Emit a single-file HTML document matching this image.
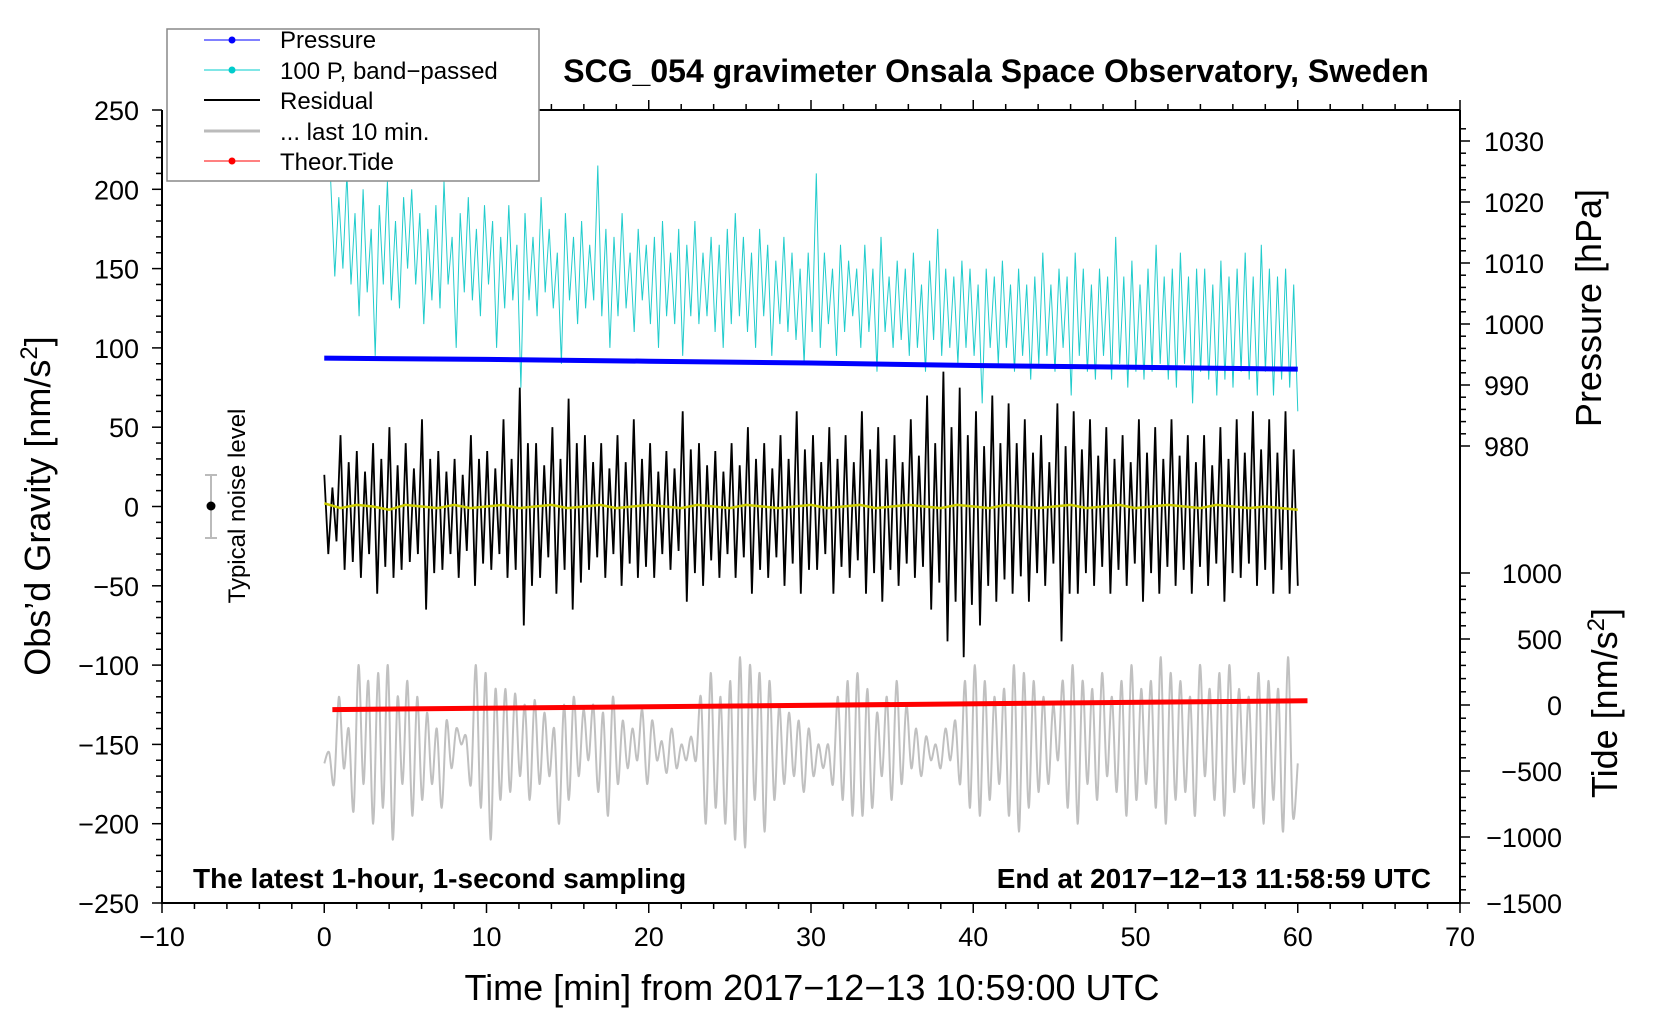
<!DOCTYPE html>
<html><head><meta charset="utf-8">
<style>
html,body{margin:0;padding:0;background:#fff;}
svg{display:block;font-family:"Liberation Sans",sans-serif;}
</style></head>
<body>
<svg id="chart" width="1660" height="1020" viewBox="0 0 1660 1020" xmlns="http://www.w3.org/2000/svg">
<rect width="1660" height="1020" fill="#fff"/>
<g id="plot"></g>
<g id="axes"></g>
<text x="996" y="82" font-size="32" font-weight="bold" text-anchor="middle">SCG_054 gravimeter Onsala Space Observatory, Sweden</text>
<text x="812" y="1000" font-size="36" text-anchor="middle">Time [min] from 2017−12−13 10:59:00 UTC</text>
<text transform="translate(50,506) rotate(-90)" font-size="36" text-anchor="middle">Obs’d Gravity [nm/s<tspan font-size="24" dy="-13">2</tspan><tspan dy="13">]</tspan></text>
<text transform="translate(1601,308) rotate(-90)" font-size="36" text-anchor="middle">Pressure [hPa]</text>
<text transform="translate(1617,703) rotate(-90)" font-size="36" text-anchor="middle">Tide [nm/s<tspan font-size="24" dy="-13">2</tspan><tspan dy="13">]</tspan></text>
<text x="193" y="888" font-size="28" font-weight="bold">The latest 1-hour, 1-second sampling</text>
<text x="1431" y="888" font-size="28" font-weight="bold" text-anchor="end">End at 2017−12−13 11:58:59 UTC</text>
<g>
<line x1="211" y1="475" x2="211" y2="538" stroke="#bbb" stroke-width="2"/>
<line x1="205" y1="475" x2="217" y2="475" stroke="#bbb" stroke-width="2"/>
<line x1="205" y1="538" x2="217" y2="538" stroke="#bbb" stroke-width="2"/>
<circle cx="211" cy="506" r="4.5" fill="#000"/>
<text transform="translate(245,506) rotate(-90)" font-size="24" text-anchor="middle">Typical noise level</text>
</g>
<g>
<rect x="167" y="29" width="372" height="152" fill="#fff" stroke="#888" stroke-width="1.5"/>
<g><line x1="204" y1="40" x2="260" y2="40" stroke="#00f" stroke-width="1"/><circle cx="232" cy="40" r="3.5" fill="#00f"/><text x="280" y="48" font-size="24">Pressure</text></g>
<g><line x1="204" y1="70" x2="260" y2="70" stroke="#0cc" stroke-width="1"/><circle cx="232" cy="70" r="3.5" fill="#0cc"/><text x="280" y="79" font-size="24">100 P, band−passed</text></g>
<g><line x1="204" y1="100" x2="260" y2="100" stroke="#000" stroke-width="2"/><text x="280" y="109" font-size="24">Residual</text></g>
<g><line x1="204" y1="131" x2="260" y2="131" stroke="#bbb" stroke-width="3"/><text x="280" y="140" font-size="24">... last 10 min.</text></g>
<g><line x1="204" y1="161" x2="260" y2="161" stroke="#f00" stroke-width="1"/><circle cx="232" cy="161" r="3.5" fill="#f00"/><text x="280" y="170" font-size="24">Theor.Tide</text></g>
</g>
</svg>
<script>
// ---- data ----
const xTicks=[-10,0,10,20,30,40,50,60,70];
const yTicks=[250,200,150,100,50,0,-50,-100,-150,-200,-250];
const pressureTicks=[1030,1020,1010,1000,990,980];
const tideTicks=[1000,500,0,-500,-1000,-1500];
const pressureTimes=[0,10,20,30,40,50,60];
const pressureValues=[994.4,994.2,993.9,993.6,993.2,992.9,992.6];
const tideTimes=[0.5,60.6];
const tideValues=[-35,32];
const residualValues=[20,-30,12,-22, 45,-40,28,-35, 35,-45,22,-30, 40,-55,30,-38, 50,-45,26,-40, 40,-35,24,-30,
55,-65,30,-42, 35,-40,22,-30, 30,-45,20,-28, 45,-50,30,-36, 35,-40,24,-30, 55,-45,30,-40,
75,-75,40,-50, 40,-45,26,-32, 50,-55,30,-40, 68,-65,40,-48, 45,-40,28,-32, 40,-45,24,-30,
45,-50,28,-36, 55,-45,30,-38, 40,-45,22,-30, 35,-40,24,-28, 60,-60,36,-42, 40,-50,26,-34,
35,-45,22,-30, 40,-45,26,-32, 50,-55,30,-40, 40,-45,24,-32, 45,-50,30,-36, 60,-55,36,-40,
45,-40,28,-30, 50,-55,30,-38, 45,-45,28,-34, 60,-55,36,-42, 50,-60,30,-40, 45,-50,28,-36,
55,-45,32,-38, 70,-65,40,-48, 85,-85,50,-60, 75,-95,45,-62, 60,-75,38,-50, 70,-60,40,-46,
65,-55,40,-44, 55,-60,34,-42, 45,-50,28,-36, 65,-85,38,-55, 60,-55,36,-42, 55,-50,32,-38,
50,-55,30,-40, 45,-50,28,-36, 55,-60,34,-42, 50,-55,30,-38, 55,-50,32,-40, 45,-55,28,-38,
45,-50,26,-36, 50,-60,30,-42, 55,-45,34,-36, 60,-50,36,-40, 55,-55,34,-40, 60,-55,36,-50];
const cyanValues=[205,145,195,150,210,140,185,120,200,135,175,95,190,140,205,130,180,125,195,150,
200,140,185,115,175,130,190,125,205,140,170,100,185,135,195,130,175,120,190,140,
180,100,170,125,190,130,165,75,185,130,170,120,195,135,175,125,160,90,185,130,
170,115,180,125,165,130,215,120,175,100,170,120,185,125,160,110,175,130,165,115,
170,100,180,120,160,115,175,95,165,120,180,115,160,120,170,110,165,100,175,115,
185,120,170,110,160,100,175,120,165,95,155,115,170,110,160,105,150,90,160,110,
210,100,160,115,150,95,165,110,155,120,150,100,165,110,150,85,170,110,145,100,
155,105,150,95,160,100,140,85,155,105,175,95,150,100,145,90,155,100,150,95,
140,65,150,100,145,90,155,100,140,85,150,95,140,80,145,90,160,95,140,85,
150,100,145,70,160,95,150,85,140,80,150,95,145,80,170,90,145,75,155,85,
140,80,150,85,165,90,145,80,150,75,160,90,145,65,150,85,150,80,140,70,
155,80,145,75,150,85,160,80,145,70,165,85,150,70,145,80,150,75,140,60];
const grayValues=[-162,-155,-175,-120,-165,-140,-192,-100,-175,-110,-200,-105,-190,-100,-210,-120,-175,-110,-195,-120,
-185,-130,-175,-140,-190,-135,-165,-140,-150,-145,-175,-100,-190,-105,-210,-115,-185,-115,-180,-118,
-170,-125,-185,-122,-175,-130,-170,-140,-200,-125,-185,-120,-170,-128,-160,-125,-180,-130,-195,-120,
-175,-135,-165,-140,-160,-128,-175,-135,-160,-148,-168,-140,-165,-150,-160,-145,-160,-120,-200,-105,
-190,-120,-200,-110,-210,-95,-215,-100,-185,-105,-205,-110,-185,-125,-175,-130,-170,-135,-180,-140,
-170,-150,-165,-150,-175,-120,-185,-110,-195,-105,-195,-115,-190,-130,-170,-120,-185,-110,-175,-125,
-165,-140,-170,-145,-160,-150,-165,-140,-160,-135,-175,-110,-190,-100,-195,-110,-185,-120,-175,-115,
-195,-100,-205,-105,-190,-110,-180,-120,-175,-125,-160,-110,-190,-100,-200,-110,-175,-115,-185,-105,
-170,-120,-180,-110,-195,-100,-185,-115,-175,-110,-190,-95,-200,-105,-185,-110,-180,-120,-195,-100,
-170,-115,-185,-105,-195,-100,-180,-115,-175,-120,-190,-105,-200,-110,-185,-115,-205,-95,-195,-162];
const yellowValues=[2,-1,1,0,-2,1,0,-1,1,-1,0,1,-1,0,1,-1,0,1,-1,0,1,0,-1,1,0,-1,1,0,-1,0,1,-1,0,1,-1,0,1,0,-1,1,0,-1,1,0,-1,0,1,-1,0,1,-1,0,1,0,-1,1,0,-1,0,-1,-2];

// ---- scales ----
const X0=162,X1=1460,YT=110,YB=903;
const X=t=>X0+(t+10)*(X1-X0)/80;
const Y=v=>YT+(250-v)*(YB-YT)/500;
const P=p=>141+(1030-p)*(446-141)/50;
const T=v=>573+(1000-v)*(YB-573)/2500;
const NS='http://www.w3.org/2000/svg';
const plot=document.getElementById('plot'), axes=document.getElementById('axes');
function mk(tag,attrs,parent){const el=document.createElementNS(NS,tag);for(const k in attrs)el.setAttribute(k,attrs[k]);parent.appendChild(el);return el;}
function pts(vals,t0,t1,fy){return vals.map((v,i)=>[X(t0+(t1-t0)*i/(vals.length-1)),fy(v)]);}
function series(vals,t0,t1,fy){return pts(vals,t0,t1,fy).map(p=>p[0].toFixed(1)+','+p[1].toFixed(1)).join(' ');}
function smooth(p){
  let d='M'+p[0][0].toFixed(1)+','+p[0][1].toFixed(1);
  for(let i=0; i < p.length-1; i++){
    const a=p[Math.max(0,i-1)],b=p[i],c=p[i+1],q=p[Math.min(p.length-1,i+2)];
    const c1=[b[0]+(c[0]-a[0])/6,b[1]+(c[1]-a[1])/6],c2=[c[0]-(q[0]-b[0])/6,c[1]-(q[1]-b[1])/6];
    d+=' C'+c1[0].toFixed(1)+','+c1[1].toFixed(1)+' '+c2[0].toFixed(1)+','+c2[1].toFixed(1)+' '+c[0].toFixed(1)+','+c[1].toFixed(1);
  }
  return d;
}

let e;
e=mk('polyline',{points:series(cyanValues,0.4,60,Y),fill:'none',stroke:'#22cccc','stroke-width':1},plot);


e=mk('polyline',{points:pressureTimes.map((t,i)=>X(t)+','+P(pressureValues[i])).join(' '),fill:'none',stroke:'#00f','stroke-width':5},plot);


e=mk('polyline',{points:series(residualValues,0,60,Y),fill:'none',stroke:'#000','stroke-width':1.8},plot);


e=mk('polyline',{points:series(yellowValues,0,60,Y),fill:'none',stroke:'#cccc00','stroke-width':2.5},plot);


e=mk('path',{d:smooth(pts(grayValues,0,60,Y)),fill:'none',stroke:'#c0c0c0','stroke-width':2},plot);


e=mk('polyline',{points:tideTimes.map((t,i)=>X(t)+','+T(tideValues[i])).join(' '),fill:'none',stroke:'#f00','stroke-width':5},plot);



// frame
e=mk('path',{d:'M'+X0+','+YT+' V'+YB+' H'+X1+' V'+YT,fill:'none',stroke:'#000','stroke-width':2},axes);


e=mk('line',{x1:539,y1:YT,x2:X1,y2:YT,stroke:'#000','stroke-width':2},axes);


// x ticks
for(let t=-10; t <= 70; t+=2){const big=t%10===0;mk('line',{x1:X(t),y1:YB,x2:X(t),y2:YB+(big?10:6),stroke:'#000','stroke-width':1.5},axes);if(X(t) > 539)mk('line',{x1:X(t),y1:YT,x2:X(t),y2:YT-(big?10:6),stroke:'#000','stroke-width':1.5},axes);}
xTicks.forEach(t=>{e=mk('text',{x:X(t),y:946,'font-size':27,'text-anchor':'middle'},axes);e.textContent=String(t).replace('-','−');

});
// left y ticks
for(let v=-250; v <= 250; v+=10){const big=v%50===0;mk('line',{x1:X0,y1:Y(v),x2:X0-(big?10:6),y2:Y(v),stroke:'#000','stroke-width':1.5},axes);}
yTicks.forEach(v=>{e=mk('text',{x:139,y:Y(v)+10,'font-size':27,'text-anchor':'end'},axes);e.textContent=String(v).replace('-','−');

});
// right ticks
for(let p=980; p <= 1032; p+=2){const big=p%10===0;mk('line',{x1:X1,y1:P(p),x2:X1+(big?10:6),y2:P(p),stroke:'#000','stroke-width':1.5},axes);}
pressureTicks.forEach(p=>{e=mk('text',{x:1484,y:P(p)+10,'font-size':27},axes);e.textContent=p;

});
for(let v=-1500; v <= 1000; v+=100){const big=v%500===0;mk('line',{x1:X1,y1:T(v),x2:X1+(big?10:6),y2:T(v),stroke:'#000','stroke-width':1.5},axes);}
tideTicks.forEach(v=>{e=mk('text',{x:1562,y:T(v)+10,'font-size':27,'text-anchor':'end'},axes);e.textContent=String(v).replace('-','−');

});
</script>
</body></html>
